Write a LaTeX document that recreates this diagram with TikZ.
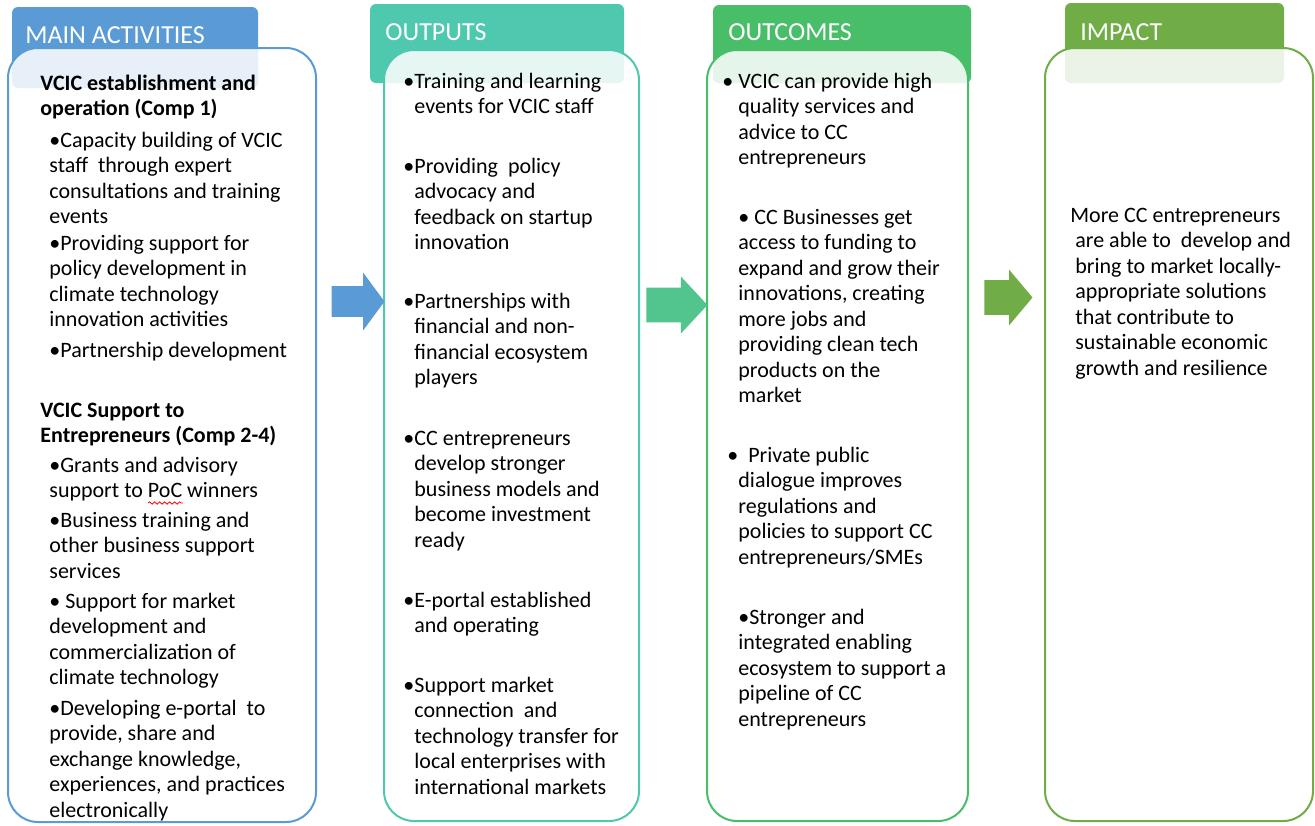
\documentclass[tikz,border=0pt]{standalone}
\usepackage{fontspec}
\setmainfont{Carlito}
\usetikzlibrary{shapes.arrows, decorations.pathmorphing}

\definecolor{actblue}{HTML}{5B9BD5}
\definecolor{outteal}{HTML}{4FC8B0}
\definecolor{ocgreen}{HTML}{48BE68}
\definecolor{impgreen}{HTML}{70AD47}
\definecolor{midgreen}{HTML}{52C58E}

\tikzstyle{tab} = [rounded corners=3pt]
\tikzstyle{panel} = [rounded corners=15pt, line width=1pt, fill=white, fill opacity=0.86]
\tikzstyle{header} = [anchor=base west, inner sep=0pt, text=white, font=\fontsize{13}{15}\selectfont]
\tikzstyle{bodytext} = [anchor=base west, inner sep=0pt, font=\fontsize{11}{12.75}\selectfont]
\tikzstyle{boldtext} = [bodytext, font=\fontsize{11}{12.75}\selectfont\bfseries]
\tikzstyle{flow} = [single arrow, single arrow head indent=0pt, inner xsep=0pt, draw=none, anchor=tip]

% lines of one bullet, first baseline at the node's base
\newcommand{\txtblock}[1]{\begin{tabular}[t]{@{}l@{}}#1\end{tabular}}

\begin{document}
\begin{tikzpicture}[x=0.5pt, y=-0.5pt]
    \useasboundingbox (0,0) rectangle (1315,825);

    % coloured tabs behind the panels
    \fill[tab, actblue] (12,7) rectangle (258,88);
    \fill[tab, outteal] (370,4) rectangle (624,83);
    \fill[tab, ocgreen] (713,5) rectangle (971,83);
    \fill[tab, impgreen] (1065,3) rectangle (1284,83);

    \draw[panel, draw=actblue] (8,48) rectangle (316,822);
    \draw[panel, draw=outteal] (384,50) rectangle (639,821);
    \draw[panel, draw=ocgreen] (707,50) rectangle (968,821);
    \draw[panel, draw=impgreen] (1045,48) rectangle (1313,821);

    \node[header] at (25,43) (hact) {MAIN ACTIVITIES};
    \node[header] at (385,40) (hout) {OUTPUTS};
    \node[header] at (728,40) (hoc) {OUTCOMES};
    \node[header] at (1080,40) (himp) {IMPACT};

    % main activities
    \node[boldtext] at (40,90) (comp1) {\txtblock{VCIC establishment and\\operation (Comp 1)}};
    \node[bodytext] at (49,147) (act1) {\txtblock{•Capacity building of VCIC\\staff\ \ through expert\\consultations and training\\events}};
    \node[bodytext] at (49,250) (act2) {\txtblock{•Providing support for\\policy development in\\climate technology\\innovation activities}};
    \node[bodytext] at (49,357) (act3) {\txtblock{•Partnership development}};
    \node[boldtext] at (40,417) (comp2) {\txtblock{VCIC Support to\\Entrepreneurs (Comp 2-4)}};
    \node[bodytext] at (49,472) (act4) {\txtblock{•Grants and advisory\\support to PoC winners}};
    \node[bodytext] at (49,527) (act5) {\txtblock{•Business training and\\other business support\\services}};
    \node[bodytext] at (49,608) (act6) {\txtblock{• Support for market\\development and\\commercialization of\\climate technology}};
    \node[bodytext] at (49,715) (act7) {\txtblock{•Developing e-portal\ \ to\\provide, share and\\exchange knowledge,\\experiences, and practices\\electronically}};
    % spell-check squiggle under PoC
    \draw[red, line width=0.4pt, decorate, decoration={snake, amplitude=0.6pt, segment length=2.5pt}] (148,503) -- (183,503);

    % outputs
    \node[bodytext] at (414,88) (out1) {\txtblock{\llap{•}Training and learning\\events for VCIC staff}};
    \node[bodytext] at (414,173) (out2) {\txtblock{\llap{•}Providing\ \ policy\\advocacy and\\feedback on startup\\innovation}};
    \node[bodytext] at (414,308) (out3) {\txtblock{\llap{•}Partnerships with\\financial and non-\\financial ecosystem\\players}};
    \node[bodytext] at (414,445) (out4) {\txtblock{\llap{•}CC entrepreneurs\\develop stronger\\business models and\\become investment\\ready}};
    \node[bodytext] at (414,607) (out5) {\txtblock{\llap{•}E-portal established\\and operating}};
    \node[bodytext] at (414,692) (out6) {\txtblock{\llap{•}Support market\\connection\ \ and\\technology transfer for\\local enterprises with\\international markets}};

    % outcomes
    \node[bodytext] at (738,88) (oc1) {\txtblock{\llap{• }VCIC can provide high\\quality services and\\advice to CC\\entrepreneurs}};
    \node[bodytext] at (738,224) (oc2) {\txtblock{• CC Businesses get\\access to funding to\\expand and grow their\\innovations, creating\\more jobs and\\providing clean tech\\products on the\\market}};
    \node[bodytext] at (738,462) (oc3) {\txtblock{\llap{•}\ \ Private public\\dialogue improves\\regulations and\\policies to support CC\\entrepreneurs/SMEs}};
    \node[bodytext] at (738,624) (oc4) {\txtblock{•Stronger and\\integrated enabling\\ecosystem to support a\\pipeline of CC\\entrepreneurs}};

    % impact
    \node[bodytext] at (1070,222) (imp) {\txtblock{More CC entrepreneurs\\\ are able to\ \ develop and\\\ bring to market locally-\\\ appropriate solutions\\\ that contribute to\\\ sustainable economic\\\ growth and resilience}};

    % block arrows between the columns, placed by their tips
    \node[flow, fill=actblue, minimum height=26.5pt, inner ysep=7.5pt, single arrow head extend=6.75pt, single arrow tip angle=107] at (385,301.5) (arr1) {};
    \node[flow, fill=midgreen, minimum height=30.5pt, inner ysep=8.5pt, single arrow head extend=5.5pt, single arrow tip angle=94] at (708,305) (arr2) {};
    \node[flow, fill=impgreen, minimum height=24pt, inner ysep=8.5pt, single arrow head extend=5.25pt, single arrow tip angle=100] at (1033,297.5) (arr3) {};
\end{tikzpicture}
\end{document}
